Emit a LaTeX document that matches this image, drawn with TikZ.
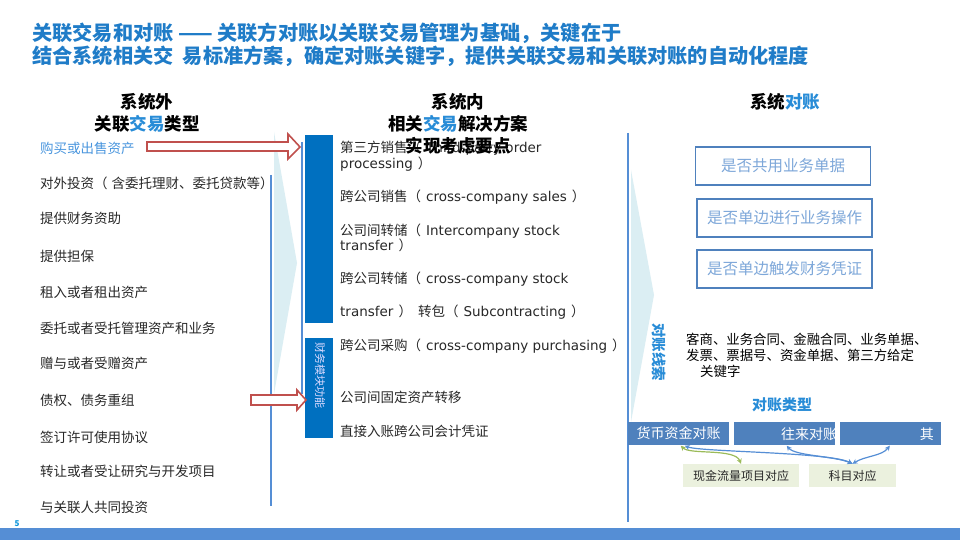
\documentclass[tikz,border=0pt]{standalone}
\usepackage{fontspec}
\setmainfont{Noto Sans CJK SC}
\newfontfamily\en{DejaVu Sans}
\usetikzlibrary{calc,arrows.meta}
\definecolor{titleblue}{RGB}{31,124,200}
\definecolor{hlblue}{RGB}{40,140,215}
\definecolor{itemblue}{RGB}{74,150,222}
\definecolor{darkbar}{RGB}{0,112,192}
\definecolor{lineblue}{RGB}{85,142,213}
\definecolor{chev}{RGB}{219,238,243}
\definecolor{rectblue}{RGB}{79,129,189}
\definecolor{boxtext}{RGB}{125,167,217}
\definecolor{greenfill}{RGB}{235,241,222}
\definecolor{greenarrow}{RGB}{155,187,89}
\definecolor{redarrow}{RGB}{192,80,77}
\definecolor{txt}{RGB}{40,40,40}
\newcommand{\lp}{（\hspace{5pt}}
\newcommand{\rp}{\hspace{5pt}）}
\tikzset{
  title/.style={anchor=west,inner sep=0pt,text=titleblue,font=\fontsize{20.2}{22}\selectfont\bfseries},
  head/.style={inner sep=0pt,font=\fontsize{17.5}{20}\selectfont\bfseries},
  litem/.style={anchor=west,inner sep=0pt,text=txt,font=\fontsize{13.5}{15}\selectfont},
  mitem/.style={anchor=west,inner sep=0pt,text=txt,align=left,font=\fontsize{13.5}{14.3}\selectfont},
  qbox/.style={draw=rectblue,line width=1.6pt,fill=white,text=boxtext,minimum width=175pt,minimum height=38pt,inner sep=0pt,font=\fontsize{15.5}{17}\selectfont},
  rbox/.style={fill=rectblue,minimum width=101pt,minimum height=23pt,inner sep=0pt,text=white,font=\fontsize{14}{16}\selectfont},
  gbox/.style={fill=greenfill,minimum height=23pt,inner sep=0pt,text=txt,font=\fontsize{12}{14}\selectfont},
  redblock/.style={draw=redarrow,line width=1.6pt,fill=white,line join=miter},
  vline/.style={draw=lineblue,line width=1.4pt},
  barrow/.style={draw=lineblue,line width=1.2pt,{Stealth[length=5pt,width=5pt]}-{Stealth[length=5pt,width=5pt]}},
  garrow/.style={draw=greenarrow,line width=1.2pt,{Stealth[length=5pt,width=5pt]}-{Stealth[length=5pt,width=5pt]}},
}
\begin{document}
\begin{tikzpicture}[x=1pt,y=-1pt]
\useasboundingbox (0,0) rectangle (960,540);
\fill[white] (0,0) rectangle (960,540);
% bottom bar
\fill[lineblue] (0,528) rectangle (960,540);
\node[inner sep=0pt,text=cyan!80!blue,font=\fontsize{8}{9}\selectfont\bfseries] (pg) at (17,524) {5};
% title
\node[title] (t1) at (32,33) {关联交易和对账 —— 关联方对账以关联交易管理为基础，关键在于};
\node[title] (t2) at (32,56) {结合系统相关交\ \ 易标准方案，确定对账关键字，提供关联交易和关联对账的自动化程度};
% headings
\node[head] (h1a) at (147,102) {系统外};
\node[head] (h1b) at (147,124) {关联{\color{hlblue}交易}类型};
% left items
\node[litem,text=itemblue] (l1) at (40,148) {购买或出售资产};
\node[litem] (l2) at (40,183) {对外投资（\hspace{4pt}含委托理财、委托贷款等）};
\node[litem] (l3) at (40,218) {提供财务资助};
\node[litem] (l4) at (40,256) {提供担保};
\node[litem] (l5) at (40,292) {租入或者租出资产};
\node[litem] (l6) at (40,328) {委托或者受托管理资产和业务};
\node[litem] (l7) at (40,363) {赠与或者受赠资产};
\node[litem] (l8) at (40,400) {债权、债务重组};
\node[litem] (l9) at (40,437) {签订许可使用协议};
\node[litem] (l10) at (40,471) {转让或者受让研究与开发项目};
\node[litem] (l11) at (40,507) {与关联人共同投资};
% left vertical line and chevron
\draw[vline] (271,175) -- (271,506);
\fill[chev] (274,132) -- (297,263) -- (274,394) -- cycle;
\draw[vline,line width=1.2pt] (302,142) -- (302,394);
% dark bars
\node[fill=darkbar,minimum width=28pt,minimum height=188pt,inner sep=0pt] (b1) at (319,229) {};
\node[fill=darkbar,minimum width=28pt,minimum height=100pt,inner sep=0pt] (b2) at (319,388) {};
\node[rotate=-90,text=white!85!blue,inner sep=0pt,font=\fontsize{11}{12}\selectfont] (b2t) at (320,375) {财务模块功能};
% red block arrows
\draw[redblock] (147,142) -- (288,142) -- (288,134) -- (300,147) -- (288,159) -- (288,151) -- (147,151) -- cycle;
\draw[redblock] (251,395) -- (297,395) -- (297,390) -- (306,400) -- (297,410) -- (297,405) -- (251,405) -- cycle;
% middle items
\node[mitem] (m1) at (340,156) {第三方销售\lp{\en Third-party order}\\{\en processing}\rp};
\node[mitem] (m2) at (340,197) {跨公司销售\lp{\en cross-company sales}\rp};
\node[mitem] (m3) at (340,238) {公司间转储\lp{\en Intercompany stock}\\{\en transfer}\rp};
\node[mitem] (m4) at (340,279) {跨公司转储\lp{\en cross-company stock}};
\node[mitem] (m5) at (340,312) {{\en transfer}\rp\ \ 转包\lp{\en Subcontracting}\rp};
\node[mitem] (m6) at (340,346) {跨公司采购\lp{\en cross-company purchasing}\rp};
\node[mitem] (m7) at (340,397) {公司间固定资产转移};
\node[mitem] (m8) at (340,431) {直接入账跨公司会计凭证};
% middle headings (over the first item, as in the reference)
\node[head] (h2a) at (458,102) {系统内};
\node[head] (h2b) at (458,124) {相关{\color{hlblue}交易}解决方案};
\node[head] (h2c) at (458,146) {实现考虑要点};
% right vertical line and chevron
\draw[vline] (628,133) -- (628,522);
\fill[chev] (631,170) -- (654,295) -- (631,422) -- cycle;
\node[rotate=-90,text=hlblue,inner sep=0pt,font=\fontsize{14.5}{16}\selectfont\bfseries] (clue) at (659,352) {对账线索};
% right heading
\node[head] (h3) at (785,102) {系统{\color{hlblue}对账}};
\node[qbox] (q1) at (783,166) {是否共用业务单据};
\node[qbox] (q2) at (784.5,218) {是否单边进行业务操作};
\node[qbox] (q3) at (784.5,269) {是否单边触发财务凭证};
\node[anchor=west,inner sep=0pt,align=left,text=black,font=\fontsize{13.4}{16}\selectfont] (keys) at (686,355) {客商、业务合同、金融合同、业务单据、\\发票、票据号、资金单据、第三方给定\\\hspace*{14pt}关键字};
\node[inner sep=0pt,text=hlblue,font=\fontsize{15}{17}\selectfont\bfseries] (ktype) at (782,405) {对账类型};
% reconciliation type boxes
\node[rbox] (r1) at (678.5,433) {货币资金对账};
\node[rbox] (r2) at (784.5,433) {};
\node[rbox] (r3) at (890.5,433) {};
\node[anchor=west,inner sep=0pt,text=white,font=\fontsize{14}{16}\selectfont] (r2t) at (781,434) {往来对账};
\node[anchor=east,inner sep=0pt,text=white,font=\fontsize{14}{16}\selectfont] (r3t) at (934,434) {其};
% green boxes
\node[gbox,minimum width=116pt] (g1) at (741,475.5) {现金流量项目对应};
\node[gbox,minimum width=87pt] (g2) at (852.5,475.5) {科目对应};
% connectors
\coordinate (r1g) at ($(r1.south west)+(53,1)$);
\coordinate (r1b) at ($(r1.south west)+(57,1)$);
\coordinate (r2b) at ($(r2.south west)+(53,1)$);
\coordinate (r3b) at ($(r3.south west)+(50,1)$);
\draw[garrow] (r1g) .. controls (690,455) and (735,448) .. (g1.north);
\draw[barrow] (r1b) .. controls (700,452) and (830,452) .. (g2.north);
\draw[barrow] (r2b) .. controls (795,456) and (835,456) .. (g2.north);
\draw[barrow] (r3b) .. controls (882,456) and (865,456) .. (g2.north);
\end{tikzpicture}
\end{document}
